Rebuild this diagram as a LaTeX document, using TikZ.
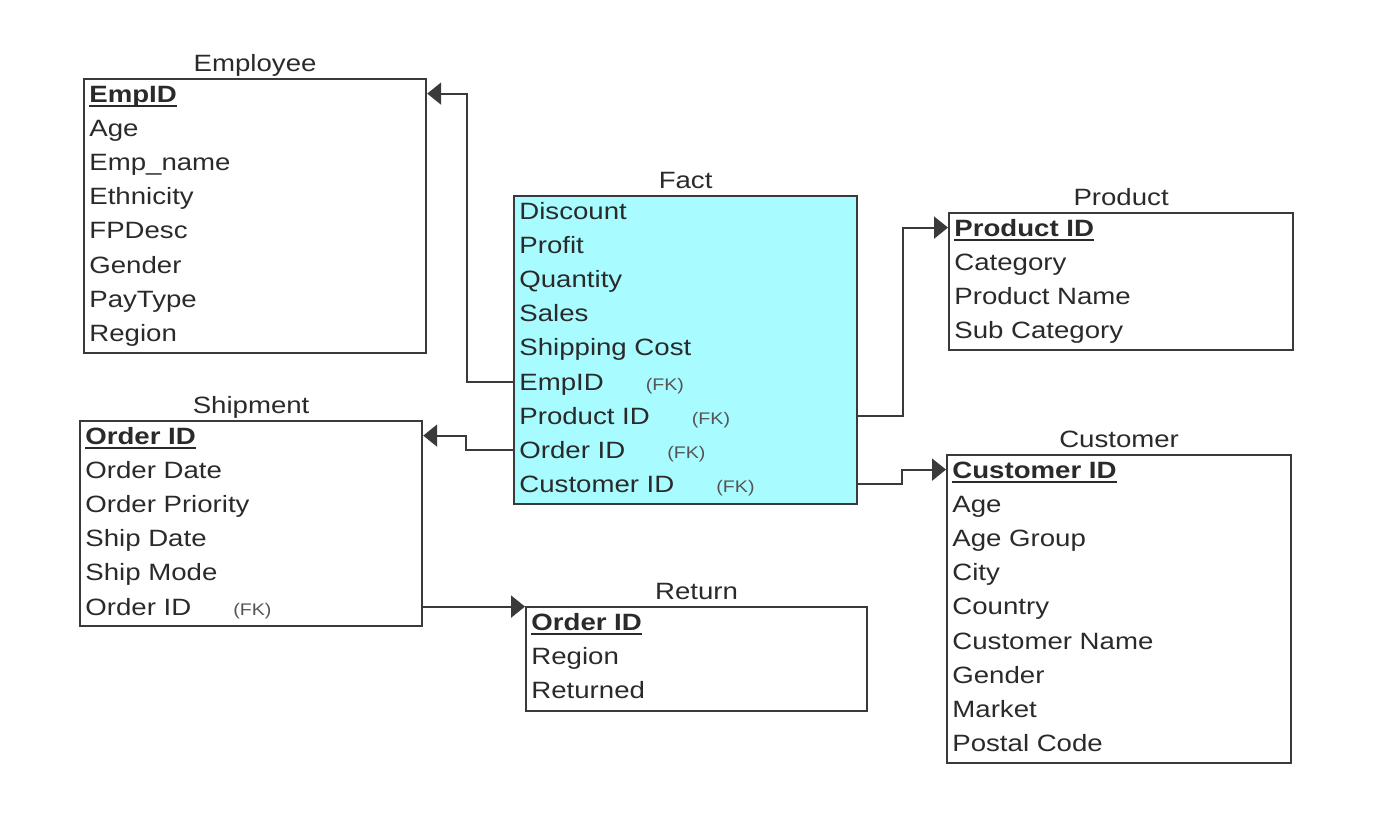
\documentclass[tikz,border=0pt]{standalone}
\usepackage{fontspec}
\setmainfont{Liberation Sans}[FakeStretch=1.17]
\usepackage{tikz}
\usetikzlibrary{arrows.meta, positioning}
\definecolor{factcyan}{HTML}{A8FCFF}
\definecolor{erline}{HTML}{3A3A3A}
\definecolor{ertext}{HTML}{2A2A2A}
\definecolor{fkgray}{HTML}{555555}
\newcommand\pk[1]{\setbox0\hbox{\textbf{#1}}\rlap{\rule[-2.6pt]{\wd0}{0.9pt}}\box0}
\newcommand\fk{\hspace{21pt}{\fontsize{8.4}{9}\selectfont\color{fkgray}(FK)}}

\begin{document}
\begin{tikzpicture}[
    x=0.5pt, y=-0.5pt,
    table/.style={draw=erline, line width=1.1pt, anchor=north west, inner sep=0pt},
    title/.style={font=\fontsize{11.8}{14}\selectfont, text=ertext, inner sep=0pt},
    row/.style={font=\fontsize{11.8}{14}\selectfont, text=ertext, anchor=base west,
                inner sep=0pt, text height=8.4pt, text depth=0pt},
    rel/.style={-{Triangle[length=7pt, width=11pt]}, draw=erline, line width=1.1pt},
  ]
  \useasboundingbox (0,0) rectangle (1392,830);

  % Employee
  \node[table, minimum width=171pt, minimum height=137pt] (emp) at (83,78) {};
  \node[title, above=3.5pt of emp.north, anchor=base] {Employee};
  \foreach \txt [count=\i from 0] in {\pk{EmpID}, Age, Emp\_name, Ethnicity, FPDesc, Gender, PayType, Region}
    \node[row] (emp\i) at ([xshift=3pt, yshift={-12pt-17.1pt*\i}]emp.north west) {\txt};

  % Fact
  \node[table, fill=factcyan, minimum width=171.5pt, minimum height=154pt] (fact) at (513,195) {};
  \node[title, above=3.5pt of fact.north, anchor=base] {Fact};
  \foreach \txt [count=\i from 0] in {Discount, Profit, Quantity, Sales, Shipping Cost,
      EmpID\fk, Product ID\fk, Order ID\fk, Customer ID\fk}
    \node[row] (fact\i) at ([xshift=3pt, yshift={-12pt-17.1pt*\i}]fact.north west) {\txt};

  % Product
  \node[table, minimum width=172pt, minimum height=68.5pt] (prod) at (948,212) {};
  \node[title, above=3.5pt of prod.north, anchor=base] {Product};
  \foreach \txt [count=\i from 0] in {\pk{Product ID}, Category, Product Name, Sub Category}
    \node[row] (prod\i) at ([xshift=3pt, yshift={-12pt-17.1pt*\i}]prod.north west) {\txt};

  % Customer
  \node[table, minimum width=172pt, minimum height=154pt] (cust) at (946,454) {};
  \node[title, above=3.5pt of cust.north, anchor=base] {Customer};
  \foreach \txt [count=\i from 0] in {\pk{Customer ID}, Age, Age Group, City, Country,
      Customer Name, Gender, Market, Postal Code}
    \node[row] (cust\i) at ([xshift=3pt, yshift={-12pt-17.1pt*\i}]cust.north west) {\txt};

  % Shipment
  \node[table, minimum width=171pt, minimum height=102.5pt] (ship) at (79,420) {};
  \node[title, above=3.5pt of ship.north, anchor=base] {Shipment};
  \foreach \txt [count=\i from 0] in {\pk{Order ID}, Order Date, Order Priority, Ship Date,
      Ship Mode, Order ID\fk}
    \node[row] (ship\i) at ([xshift=3pt, yshift={-12pt-17.1pt*\i}]ship.north west) {\txt};

  % Return
  \node[table, minimum width=170.5pt, minimum height=52pt] (ret) at (525,606) {};
  \node[title, above=3.5pt of ret.north, anchor=base] {Return};
  \foreach \txt [count=\i from 0] in {\pk{Order ID}, Region, Returned}
    \node[row] (ret\i) at ([xshift=3pt, yshift={-12pt-17.1pt*\i}]ret.north west) {\txt};

  % Relationships
  \draw[rel] (fact.west |- fact5) -- ++(-46,0) |- (emp.east |- emp0);
  \draw[rel] (fact.west |- fact7) -- ++(-47,0) |- (ship.east |- ship0);
  \draw[rel] (fact.east |- fact6) -- ++(45,0) |- (prod.west |- prod0);
  \draw[rel] (fact.east |- fact8) -- ++(44,0) |- (cust.west |- cust0);
  \draw[rel] (ship.east |- ship5) -- (ret.west |- ship5);

\end{tikzpicture}
\end{document}
